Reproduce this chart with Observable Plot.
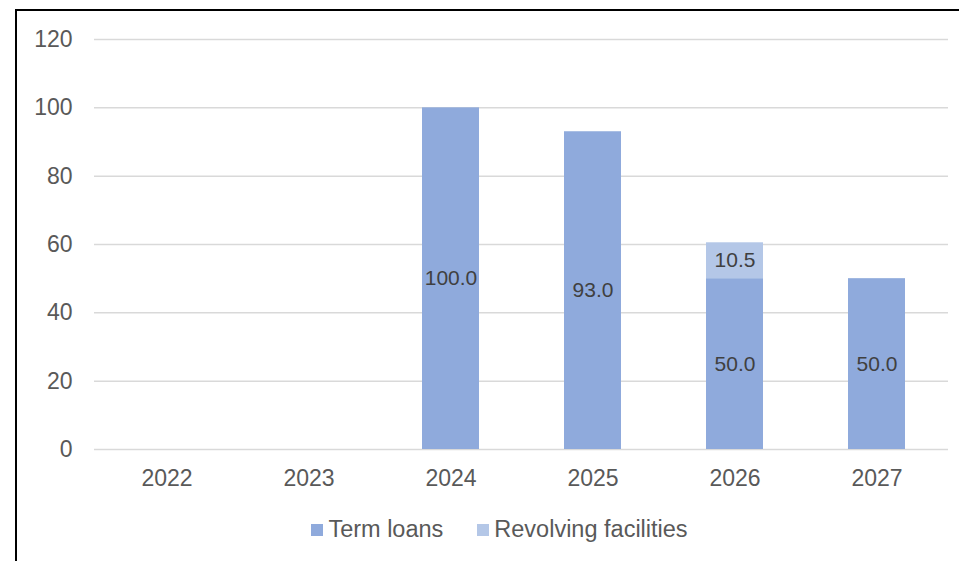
<!DOCTYPE html>
<html>
<head>
<meta charset="utf-8">
<script src="https://cdn.jsdelivr.net/npm/d3@7"></script>
<script src="https://cdn.jsdelivr.net/npm/@observablehq/plot@0.6"></script>
<style>
  html, body { margin: 0; padding: 0; background: #fff; overflow: hidden; width: 959px; height: 561px; }
  #frame { position: absolute; left: 15px; top: 9px; width: 1200px; height: 900px; border: 2px solid #000; box-sizing: border-box; }
  #chart { position: absolute; left: 0; top: 0; }
  #legend { position: absolute; left: 0; top: 516px; width: 959px; display: flex; justify-content: center; gap: 34px;
            font-family: "Liberation Sans", Arial, sans-serif; font-size: 23.5px; color: #595959; padding-left: 40px; box-sizing: border-box; }
  .item { display: flex; align-items: center; }
  .sw { width: 12px; height: 12px; margin-right: 5px; }
</style>
</head>
<body>
<div id="frame"></div>
<div id="chart"></div>
<div id="legend"></div>
<script>
const years = ["2022", "2023", "2024", "2025", "2026", "2027"];
const seriesNames = ["Term loans", "Revolving facilities"];
const termLoans = [0, 0, 100, 93, 50, 50];
const revolving = [0, 0, 0, 0, 10.5, 0];
const yTicks = [0, 20, 40, 60, 80, 100, 120];
const colors = ["#8FAADC", "#B4C7E7"];

const rows = [];
years.forEach((yr, i) => {
  rows.push({year: yr, series: seriesNames[0], value: termLoans[i]});
  rows.push({year: yr, series: seriesNames[1], value: revolving[i]});
});

const chart = Plot.plot({
  width: 959,
  height: 500,
  marginLeft: 94,
  marginRight: 11,
  marginTop: 39,
  marginBottom: 51,
  style: {fontFamily: "'Liberation Sans', Arial, sans-serif", background: "transparent"},
  x: {domain: years, paddingInner: 0.6, paddingOuter: 0.3, label: null},
  y: {domain: [0, 120], label: null},
  color: {domain: seriesNames, range: colors},
  marks: [
    Plot.ruleY(yTicks, {stroke: "#D9D9D9", strokeWidth: 1.5}),
    Plot.barY(rows, {x: "year", y: "value", fill: "series", z: "series"}),
    Plot.text(rows, Plot.stackY({
      x: "year", y: "value", z: "series",
      text: d => d.value > 0 ? d.value.toFixed(1) : "",
      fill: "#404040", fontSize: 21
    })),
    Plot.axisY({ticks: yTicks, tickSize: 0, tickPadding: 22, fontSize: 23, color: "#595959", label: null}),
    Plot.axisX({tickSize: 0, tickPadding: 20, fontSize: 23, color: "#595959", label: null})
  ]
});
document.getElementById("chart").appendChild(chart);

const legend = document.getElementById("legend");
seriesNames.forEach((s, i) => {
  const item = document.createElement("div");
  item.className = "item";
  const sw = document.createElement("div");
  sw.className = "sw";
  sw.style.background = colors[i];
  const t = document.createElement("span");
  t.textContent = s;
  item.appendChild(sw);
  item.appendChild(t);
  legend.appendChild(item);
});
</script>
</body>
</html>
